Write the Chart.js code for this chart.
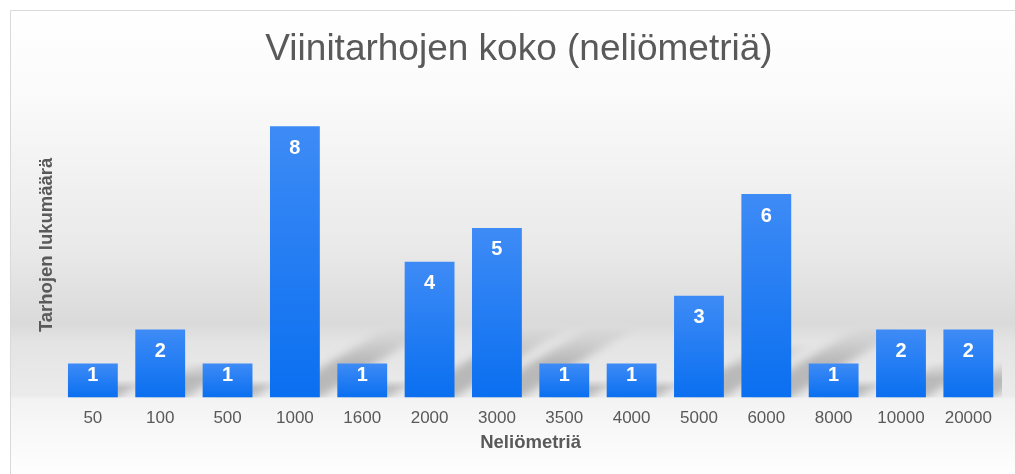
<!DOCTYPE html>
<html>
<head>
<meta charset="utf-8">
<script src="https://cdn.jsdelivr.net/npm/chart.js@4.4.1/dist/chart.umd.min.js"></script>
<style>
    html, body { margin: 0; padding: 0; background: #ffffff; }
    #wrap { width: 1015px; height: 474px; }
</style>
</head>
<body>
<div id="wrap"><canvas id="myChart"></canvas></div>
<script>
const categories = ['50', '100', '500', '1000', '1600', '2000', '3000', '3500', '4000', '5000', '6000', '8000', '10000', '20000'];
const counts = [1, 2, 1, 8, 1, 4, 5, 1, 1, 3, 6, 1, 2, 2];
const yMax = 9;

const TEXT_COLOR = '#595959';
const FONT = "'Liberation Sans', Arial, sans-serif";

// per-bar gradient, lighter at the top
function barColor(context) {
    const chart = context.chart;
    const y = chart.scales.y;
    if (!chart.chartArea || !y) return '#1f7bf3';
    const value = counts[context.dataIndex];
    const top = y.getPixelForValue(value);
    const base = y.getPixelForValue(0);
    if (!isFinite(top) || !isFinite(base) || top === base) return '#1f7bf3';
    const g = chart.ctx.createLinearGradient(0, top, 0, base);
    g.addColorStop(0, '#3e8bf6');
    g.addColorStop(1, '#0a6ff0');
    return g;
}

// background with frame and floor look
const backgroundPlugin = {
    id: 'background',
    beforeDraw(chart) {
        const ctx = chart.ctx;
        const w = chart.width, h = chart.height;
        ctx.save();
        ctx.fillStyle = '#ffffff';
        ctx.fillRect(0, 0, w, h);
        const g = ctx.createLinearGradient(0, 10, 0, h);
        const s = (y) => (y - 10) / (h - 10);
        g.addColorStop(0, '#ffffff');
        g.addColorStop(s(100), '#fafafa');
        g.addColorStop(s(250), '#e9e9e9');
        g.addColorStop(s(324), '#dadada');
        g.addColorStop(s(342), '#e4e4e4');
        g.addColorStop(s(396), '#ebebeb');
        g.addColorStop(s(399), '#f3f3f3');
        g.addColorStop(1, '#fefefe');
        ctx.fillStyle = g;
        ctx.fillRect(10, 10, w - 10, h - 10);
        ctx.strokeStyle = '#d9d9d9';
        ctx.lineWidth = 1;
        ctx.beginPath();
        ctx.moveTo(10.5, h);
        ctx.lineTo(10.5, 10.5);
        ctx.lineTo(w, 10.5);
        ctx.stroke();
        ctx.restore();
    }
};

// soft floor shadows behind the bars (blur through canvas shadow)
const shadowPlugin = {
    id: 'barShadows',
    beforeDatasetsDraw(chart) {
        const ctx = chart.ctx;
        const area = chart.chartArea;
        const meta = chart.getDatasetMeta(0);
        const off = 3000;
        ctx.save();
        ctx.beginPath();
        ctx.rect(area.left, 300, area.right - area.left, area.bottom - 300);
        ctx.clip();
        ctx.shadowColor = 'rgba(0,0,0,1)';
        ctx.shadowBlur = 9;
        ctx.shadowOffsetX = off;
        ctx.translate(-off, 0);
        meta.data.forEach(bar => {
            const p = bar.getProps(['x', 'y', 'base', 'width'], true);
            const hgt = p.base - p.y;
            const sh = Math.min(hgt * 0.55, 72);
            const dx = sh * 1.6;
            const l = p.x - p.width / 2, r = p.x + p.width / 2;
            const g = ctx.createLinearGradient(0, p.base, 0, p.base - sh);
            g.addColorStop(0, 'rgba(0,0,0,0.22)');
            g.addColorStop(0.5, 'rgba(0,0,0,0.20)');
            g.addColorStop(1, 'rgba(0,0,0,0)');
            ctx.fillStyle = g;
            ctx.beginPath();
            ctx.moveTo(l + 4, p.base);
            ctx.lineTo(r, p.base);
            ctx.lineTo(r + dx, p.base - sh);
            ctx.lineTo(l + 4 + dx, p.base - sh);
            ctx.closePath();
            ctx.fill();
        });
        ctx.restore();
    }
};

// value labels inside the bar tops
const labelPlugin = {
    id: 'valueLabels',
    afterDatasetsDraw(chart) {
        const ctx = chart.ctx;
        const meta = chart.getDatasetMeta(0);
        ctx.save();
        ctx.fillStyle = '#ffffff';
        ctx.font = "bold 20px " + FONT;
        ctx.textAlign = 'center';
        ctx.textBaseline = 'middle';
        meta.data.forEach((bar, i) => {
            const hgt = bar.base - bar.y;
            const dy = Math.min(22, hgt / 2 - 4.5);
            ctx.fillText(String(counts[i]), bar.x, bar.y + dy);
        });
        ctx.restore();
    }
};

const data = {
    labels: categories,
    datasets: [
        {
            label: 'Tarhojen lukumäärä',
            data: counts,
            backgroundColor: barColor,
            borderWidth: 0,
            barPercentage: 0.74,
            categoryPercentage: 1.0,
        }
    ]
};

const config = {
    type: 'bar',
    data: data,
    options: {
        responsive: true,
        maintainAspectRatio: false,
        animation: false,
        events: [],
        layout: {
            padding: { left: 36, right: 13, top: 10, bottom: 10 }
        },
        plugins: {
            legend: { display: false },
            tooltip: { enabled: false },
            title: {
                display: true,
                text: 'Viinitarhojen koko (neliömetriä)',
                color: TEXT_COLOR,
                font: { family: FONT, size: 37, weight: 'normal' },
                padding: { top: 18, bottom: 20 }
            }
        },
        scales: {
            x: {
                grid: { display: false, drawTicks: false },
                border: { display: false },
                ticks: {
                    color: TEXT_COLOR,
                    font: { family: FONT, size: 17 },
                    padding: 11,
                    maxRotation: 0,
                    autoSkip: false
                },
                title: {
                    display: true,
                    text: 'Neliömetriä',
                    color: TEXT_COLOR,
                    font: { family: FONT, size: 18.5, weight: 'bold' },
                    padding: { top: -8, bottom: 10 }
                }
            },
            y: {
                min: 0,
                max: yMax,
                grid: { display: false, drawTicks: false },
                border: { display: false },
                ticks: { display: false },
                title: {
                    display: true,
                    text: 'Tarhojen lukumäärä',
                    color: TEXT_COLOR,
                    font: { family: FONT, size: 18.5, weight: 'bold' },
                    padding: { top: 0, bottom: 1 }
                }
            }
        }
    },
    plugins: [backgroundPlugin, shadowPlugin, labelPlugin]
};

const myChart = new Chart(document.getElementById('myChart'), config);
</script>
</body>
</html>
